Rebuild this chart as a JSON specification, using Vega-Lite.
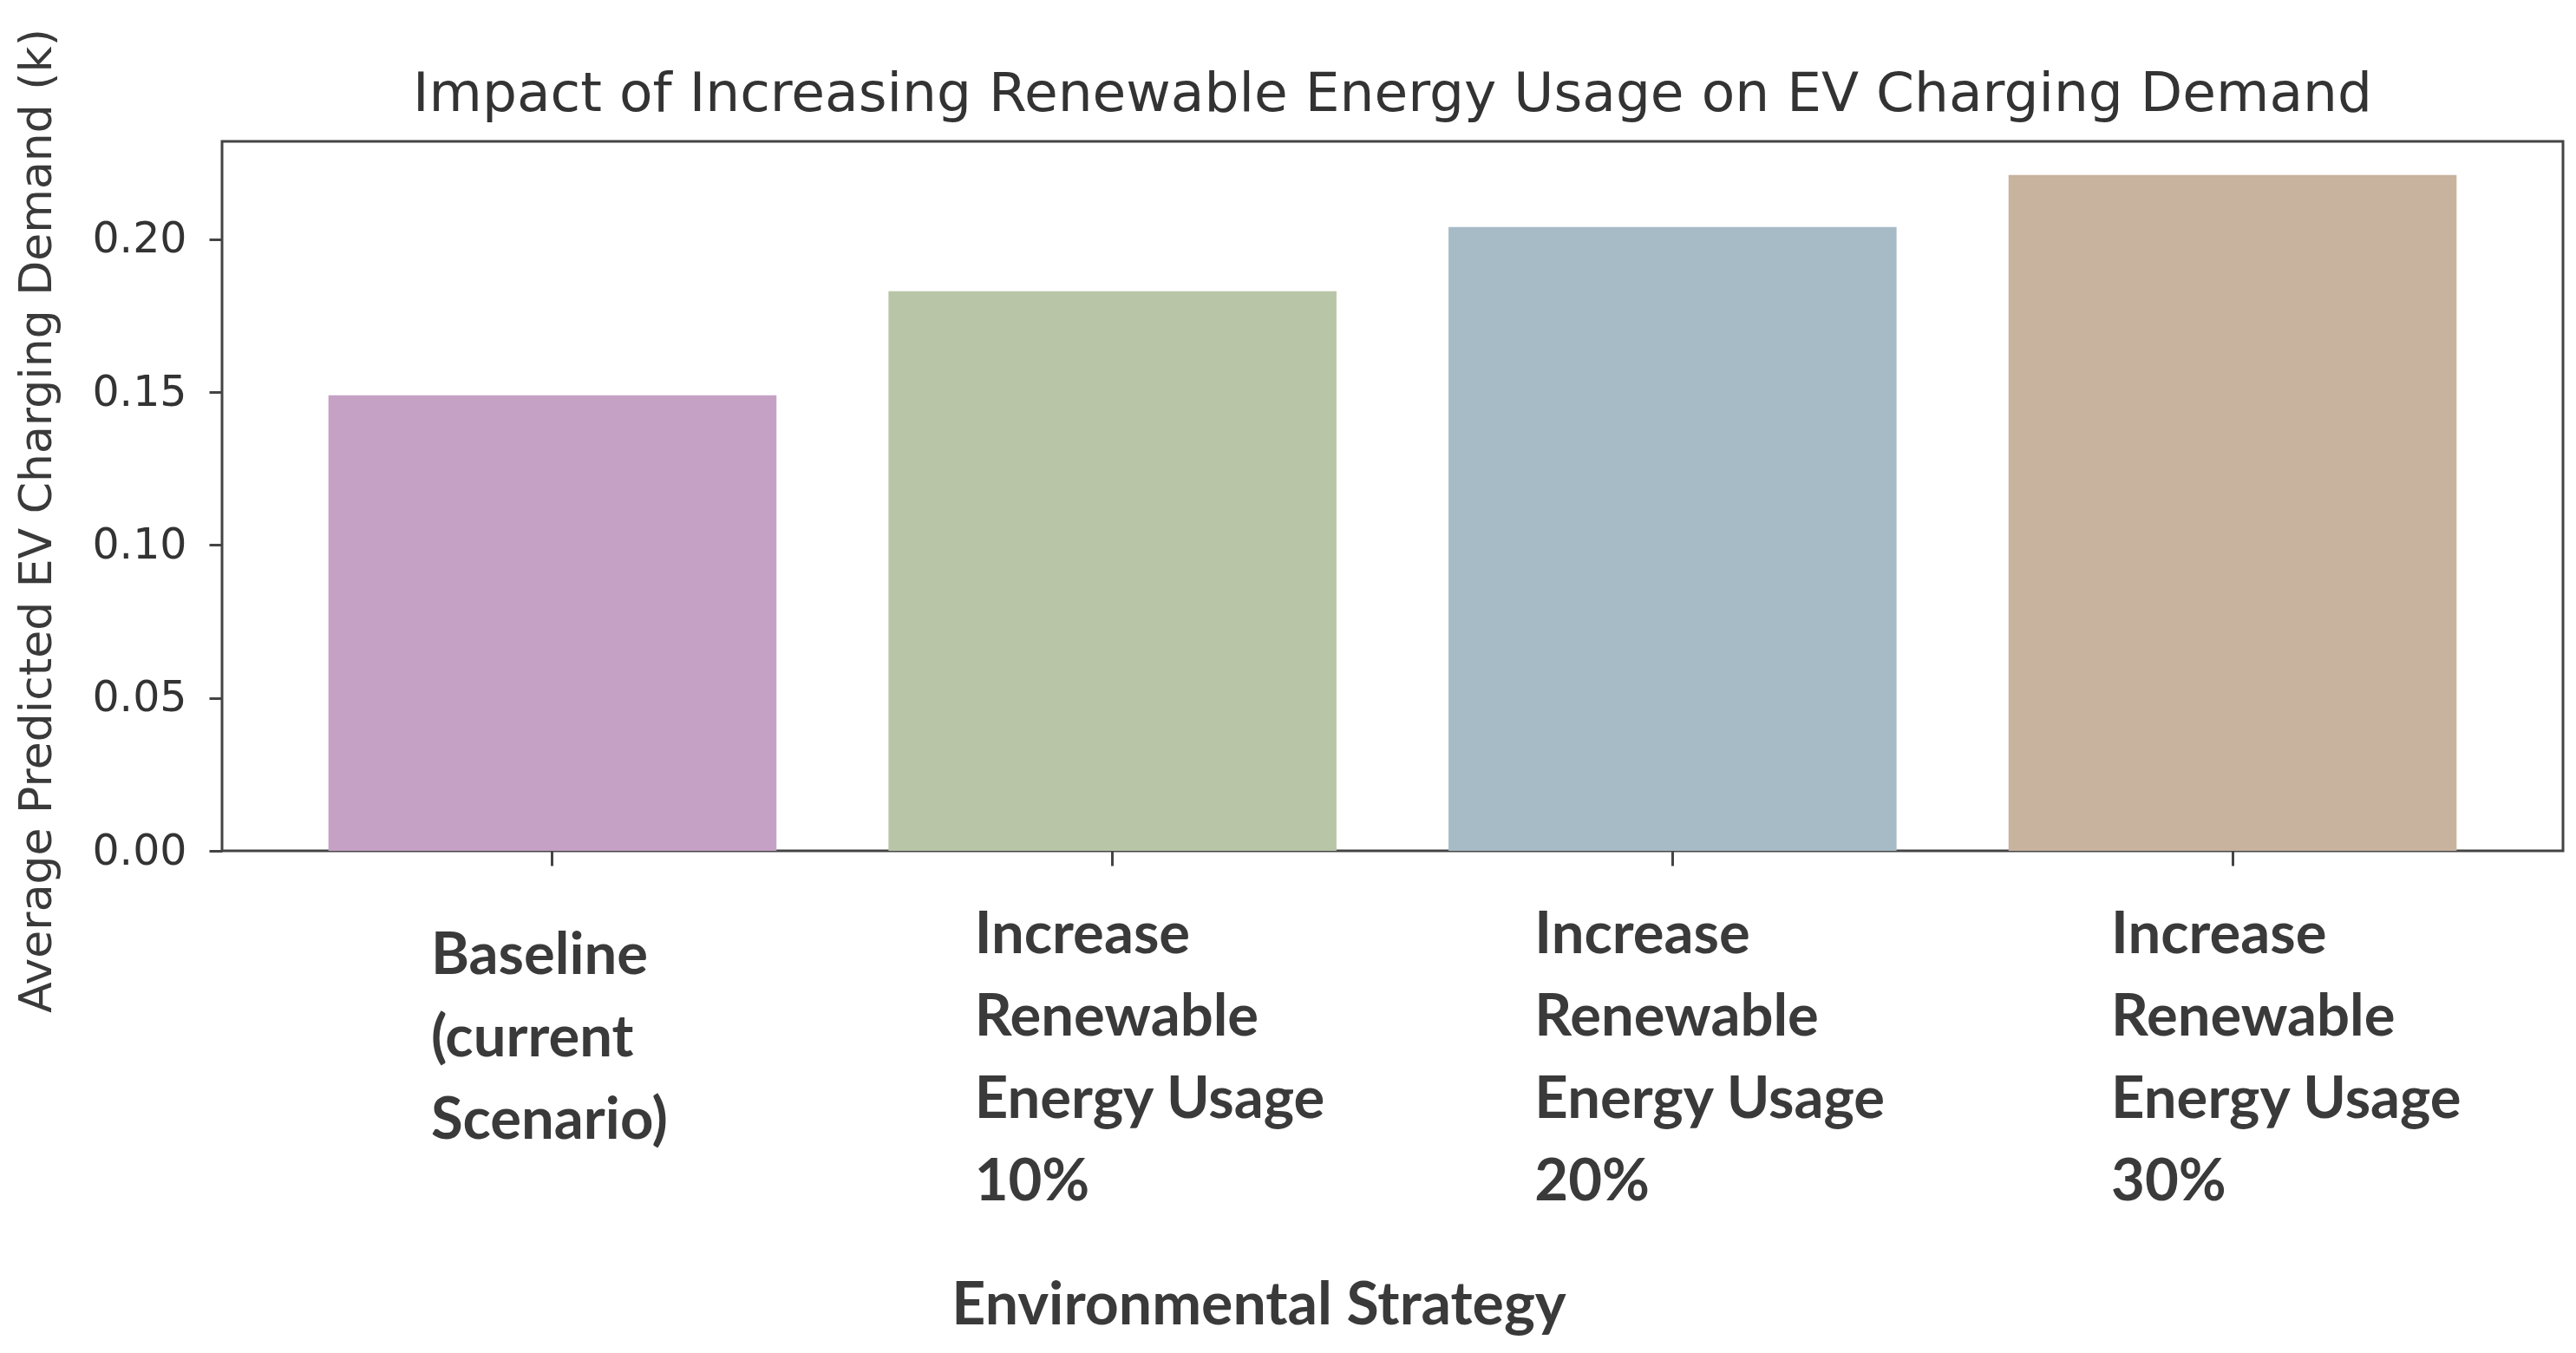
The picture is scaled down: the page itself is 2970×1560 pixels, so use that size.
{
  "$schema": "https://vega.github.io/schema/vega-lite/v6.json",
  "width": 2699,
  "height": 818,
  "autosize": {"type": "none"},
  "padding": {"left": 256, "top": 163, "right": 15, "bottom": 579},
  "background": "white",
  "title": {
    "text": "Impact of Increasing Renewable Energy Usage on EV Charging Demand",
    "font": "DejaVu Sans",
    "fontSize": 63,
    "fontWeight": "normal",
    "color": "#333333",
    "anchor": "middle",
    "offset": 22,
    "dy": 130
  },
  "data": {
    "values": [
      {"strategy": "Baseline (current Scenario)", "demand": 0.149},
      {"strategy": "Increase Renewable Energy Usage 10%", "demand": 0.183},
      {"strategy": "Increase Renewable Energy Usage 20%", "demand": 0.204},
      {"strategy": "Increase Renewable Energy Usage 30%", "demand": 0.221}
    ]
  },
  "mark": {"type": "bar"},
  "encoding": {
    "x": {
      "field": "strategy",
      "type": "nominal",
      "sort": null,
      "scale": {"paddingInner": 0.2, "paddingOuter": 0.19},
      "axis": {
        "title": "Environmental Strategy",
        "titleFont": "Lato",
        "titleFontWeight": "bold",
        "titleFontSize": 68,
        "titleColor": "#3a3a3a",
        "titleX": 1195,
        "titleY": 525,
        "titleAlign": "center",
        "titleBaseline": "middle",
        "labelAngle": 0,
        "labelFont": "Lato",
        "labelFontWeight": "bold",
        "labelFontSize": 67,
        "labelLineHeight": 95,
        "labelColor": "#3a3a3a",
        "labelAlign": "left",
        "labelBaseline": "top",
        "labelOffset": {
          "condition": {"test": "datum.value == 'Increase Renewable Energy Usage 10%' || datum.value == 'Increase Renewable Energy Usage 20%'", "value": -159},
          "value": -140
        },
        "labelPadding": {
          "condition": {"test": "datum.value == 'Baseline (current Scenario)'", "value": 71},
          "value": 47
        },
        "labelExpr": "split(replace(replace(datum.label, 'Increase Renewable Energy Usage ', 'Increase|Renewable|Energy Usage|'), 'Baseline (current Scenario)', 'Baseline|(current|Scenario)'), '|')",
        "labelLimit": 0,
        "domain": false,
        "tickSize": 17,
        "tickWidth": 3,
        "tickColor": "#444444",
        "grid": false
      }
    },
    "y": {
      "field": "demand",
      "type": "quantitative",
      "scale": {"domain": [0, 0.232], "nice": false, "zero": true},
      "axis": {
        "title": "Average Predicted EV Charging Demand (k)",
        "titleFont": "DejaVu Sans",
        "titleFontWeight": "normal",
        "titleFontSize": 52,
        "titleColor": "#3a3a3a",
        "titleY": 437,
        "titlePadding": 36,
        "values": [0, 0.05, 0.1, 0.15, 0.2],
        "format": ".2f",
        "labelFont": "DejaVu Sans",
        "labelFontSize": 49,
        "labelColor": "#333333",
        "labelPadding": 26,
        "domain": false,
        "tickSize": 15,
        "tickWidth": 3,
        "tickColor": "#444444",
        "grid": false
      }
    },
    "color": {
      "field": "strategy",
      "type": "nominal",
      "sort": null,
      "scale": {"range": ["#c5a2c5", "#b8c6a7", "#a7bbc7", "#c7b39e"]},
      "legend": null
    }
  },
  "config": {
    "view": {"stroke": "#444444", "strokeWidth": 3}
  }
}
